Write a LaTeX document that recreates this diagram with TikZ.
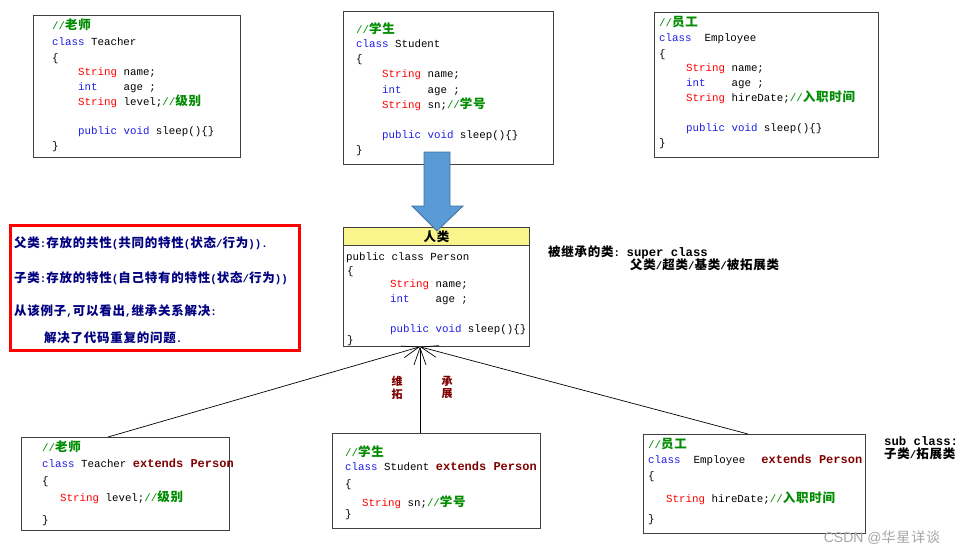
\documentclass[tikz,border=0pt]{standalone}
\usepackage{fontspec}
\setmainfont{Liberation Sans}
\setmonofont{Liberation Mono}
\newfontfamily\cjk{Noto Sans CJK SC}[LetterSpace=6]
\usetikzlibrary{arrows.meta}
\definecolor{cmtg}{RGB}{0,140,0}
\definecolor{kwb}{RGB}{30,30,230}
\definecolor{strr}{RGB}{255,0,0}
\definecolor{extr}{RGB}{128,0,0}
\definecolor{navy}{RGB}{0,0,128}
\definecolor{hdr}{RGB}{250,244,140}
\definecolor{arrowblue}{RGB}{91,155,213}
\definecolor{arrowedge}{RGB}{65,113,156}
\newcommand\Kcj[1]{{\cjk\bfseries\fontsize{12.5}{13}\selectfont #1}}
\newcommand\Kcm[1]{\textcolor{cmtg}{#1}}
\newcommand\Kkw[1]{\textcolor{kwb}{#1}}
\newcommand\Kst[1]{\textcolor{strr}{#1}}
\newcommand\Kex[1]{\textcolor{extr}{\fontsize{12}{14}\selectfont\bfseries #1}}
\newcommand\codefont{\ttfamily\fontsize{10.8}{12}\selectfont}
\begin{document}
\begin{tikzpicture}[x=1pt,y=-1pt,
  code/.style={anchor=base west, inner sep=0pt, font=\codefont},
  redtxt/.style={anchor=base west, inner sep=0pt, text=navy, font=\ttfamily\bfseries\fontsize{10.8}{12}\selectfont},
  lbl/.style={anchor=base west, inner sep=0pt, font=\ttfamily\bfseries\fontsize{10.8}{12}\selectfont},
  box/.style={draw=black!75, line width=0.8pt, inner sep=0pt, anchor=north west},
  inh/.style={draw=black, line width=0.7pt, -{Straight Barb[length=17pt,width=12pt]}},
  vlbl/.style={inner sep=0pt, text=extr, font=\cjk\bfseries\fontsize{11}{12}\selectfont}]
\fill[white] (0,0) rectangle (966,554);
\useasboundingbox (0,0) rectangle (966,554);

% ---- top Teacher
\node[box, minimum width=207pt, minimum height=142pt] (T) at (33,15) {};
\node[code] (T1) at (52,29) {\Kcm{//\Kcj{老师}}};
\node[code] (T2) at (52,45) {\Kkw{class} Teacher};
\node[code] (T3) at (52,61) {\{};
\node[code] (T4) at (78,75) {\Kst{String} name;};
\node[code] (T5) at (78,90) {\Kkw{int}\ \ \ \ age ;};
\node[code] (T6) at (78,105) {\Kst{String} level;\Kcm{//\Kcj{级别}}};
\node[code] (T7) at (78,134) {\Kkw{public void} sleep()\{\}};
\node[code] (T8) at (52,149) {\}};

% ---- top Student
\node[box, minimum width=210pt, minimum height=153pt] (S) at (343,11) {};
\node[code] (S1) at (356,33) {\Kcm{//\Kcj{学生}}};
\node[code] (S2) at (356,47) {\Kkw{class} Student};
\node[code] (S3) at (356,62) {\{};
\node[code] (S4) at (382,77) {\Kst{String} name;};
\node[code] (S5) at (382,93) {\Kkw{int}\ \ \ \ age ;};
\node[code] (S6) at (382,108) {\Kst{String} sn;\Kcm{//\Kcj{学号}}};
\node[code] (S7) at (382,138) {\Kkw{public void} sleep()\{\}};
\node[code] (S8) at (356,153) {\}};

% ---- top Employee
\node[box, minimum width=224pt, minimum height=145pt] (E) at (654,12) {};
\node[code] (E1) at (659,26) {\Kcm{//\Kcj{员工}}};
\node[code] (E2) at (659,41) {\Kkw{class}\ \ Employee};
\node[code] (E3) at (659,57) {\{};
\node[code] (E4) at (686,71) {\Kst{String} name;};
\node[code] (E5) at (686,86) {\Kkw{int}\ \ \ \ age ;};
\node[code] (E6) at (686,101) {\Kst{String} hireDate;\Kcm{//\Kcj{入职时间}}};
\node[code] (E7) at (686,131) {\Kkw{public void} sleep()\{\}};
\node[code] (E8) at (659,146) {\}};

% ---- red note box
\node[draw=red, line width=3pt, inner sep=0pt, anchor=north west,
      minimum width=289pt, minimum height=125pt] (R) at (9,224) {};
\node[redtxt] (R1) at (14,247) {\Kcj{父类}:\Kcj{存放的共性}(\Kcj{共同的特性}(\Kcj{状态}/\Kcj{行为})).};
\node[redtxt] (R2) at (14,282) {\Kcj{子类}:\Kcj{存放的特性}(\Kcj{自己特有的特性}(\Kcj{状态}/\Kcj{行为}))};
\node[redtxt] (R3) at (14,315) {\Kcj{从该例子},\Kcj{可以看出},\Kcj{继承关系解决}:};
\node[redtxt] (R4) at (44,342) {\Kcj{解决了代码重复的问题}.};

% ---- Person
\node[box, minimum width=186pt, minimum height=119pt] (P) at (343,227) {};
\node[box, fill=hdr, minimum width=186pt, minimum height=18pt] (PH) at (343,227) {\Kcj{人类}};
\node[code] (P1) at (346,260) {public class Person};
\node[code] (P2) at (347,274) {\{};
\node[code] (P3) at (390,287) {\Kst{String} name;};
\node[code] (P4) at (390,302) {\Kkw{int}\ \ \ \ age ;};
\node[code] (P5) at (390,332) {\Kkw{public void} sleep()\{\}};
\node[code] (P6) at (347,343) {\}};

% ---- blue arrow
\filldraw[fill=arrowblue, draw=arrowedge, line width=0.8pt]
  (424,152) -- (450,152) -- (450,206) -- (463,206) -- (437,231) -- (412,206) -- (424,206) -- cycle;

% ---- super class labels
\node[lbl] (L1) at (548,256) {\Kcj{被继承的类}: {\fontsize{12.3}{14}\selectfont super class}};
\node[lbl] (L2) at (630,269) {\Kcj{父类}/\Kcj{超类}/\Kcj{基类}/\Kcj{被拓展类}};

% ---- bottom Teacher
\node[box, minimum width=208pt, minimum height=93pt] (TB) at (21,437) {};
\node[code] (TB1) at (42,451) {\Kcm{//\Kcj{老师}}};
\node[code] (TB2) at (42,467) {\Kkw{class} Teacher \Kex{extends Person}};
\node[code] (TB3) at (42,484) {\{};
\node[code] (TB4) at (60,501) {\Kst{String} level;\Kcm{//\Kcj{级别}}};
\node[code] (TB5) at (42,523) {\}};

% ---- bottom Student
\node[box, minimum width=208pt, minimum height=95pt] (SB) at (332,433) {};
\node[code] (SB1) at (345,456) {\Kcm{//\Kcj{学生}}};
\node[code] (SB2) at (345,470) {\Kkw{class} Student \Kex{extends Person}};
\node[code] (SB3) at (345,487) {\{};
\node[code] (SB4) at (362,506) {\Kst{String} sn;\Kcm{//\Kcj{学号}}};
\node[code] (SB5) at (345,517) {\}};

% ---- bottom Employee
\node[box, minimum width=222pt, minimum height=99pt] (EB) at (643,434) {};
\node[code] (EB1) at (648,448) {\Kcm{//\Kcj{员工}}};
\node[code] (EB2) at (648,463) {\Kkw{class}\ \ Employee\hspace{16pt}\Kex{extends Person}};
\node[code] (EB3) at (648,479) {\{};
\node[code] (EB4) at (666,502) {\Kst{String} hireDate;\Kcm{//\Kcj{入职时间}}};
\node[code] (EB5) at (648,522) {\}};

% ---- sub class labels
\node[lbl] (L3) at (884,445) {{\fontsize{12.3}{14}\selectfont sub class:}};
\node[lbl] (L4) at (884,458) {\Kcj{子类}/\Kcj{拓展类}};

% ---- inheritance connectors
\draw[inh] ([xshift=87pt]TB.north west) -- ([xshift=77pt]P.south west);
\draw[inh] ([xshift=88pt]SB.north west) -- ([xshift=77pt]P.south west);
\draw[inh] ([xshift=105pt]EB.north west) -- ([xshift=77pt]P.south west);

\node[vlbl] (V1) at (397,381) {维};
\node[vlbl] (V2) at (397,394) {拓};
\node[vlbl] (V3) at (447,381) {承};
\node[vlbl] (V4) at (447,394) {展};

% ---- watermark
\node[inner sep=0pt, text=black!35, font=\fontsize{14}{16}\selectfont] (WM) at (882,538) {CSDN @{\cjk 华星详谈}};
\end{tikzpicture}
\end{document}
